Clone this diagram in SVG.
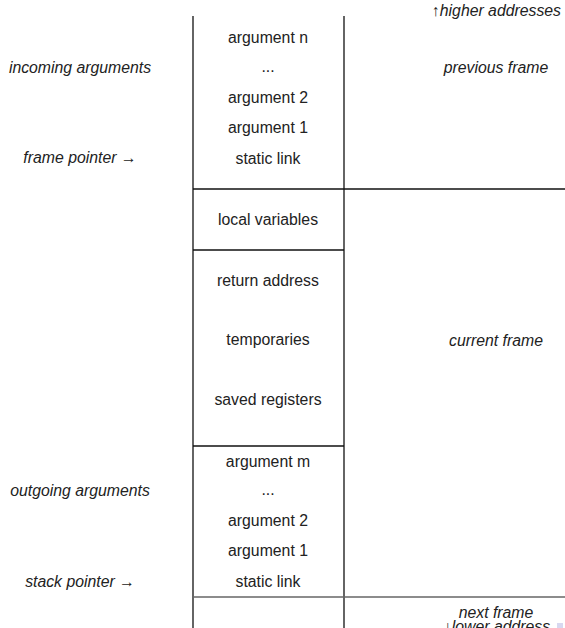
<svg xmlns="http://www.w3.org/2000/svg" width="565" height="628" viewBox="0 0 565 628">
<style>
.t{font-family:"Liberation Sans",Arial,sans-serif;font-size:15.8px;fill:#222;text-anchor:middle}
.i{font-style:italic}
.ln{stroke:#111;stroke-width:1.3;fill:none}
</style>
<rect width="565" height="628" fill="#fff"/>
<g id="connectors">
<line class="ln" x1="193" y1="16" x2="193" y2="628"/>
<line class="ln" x1="344" y1="16" x2="344" y2="628"/>
<line class="ln" x1="193" y1="189" x2="565" y2="189"/>
<line class="ln" x1="193" y1="250" x2="344" y2="250"/>
<line class="ln" x1="193" y1="446" x2="344" y2="446"/>
<line x1="193" y1="597" x2="565" y2="597" stroke="#666" stroke-width="1.5"/>
</g>
<g id="previous-frame">
<text class="t" x="268" y="43">argument n</text>
<text class="t" x="268" y="72">...</text>
<text class="t" x="268" y="103">argument 2</text>
<text class="t" x="268" y="133">argument 1</text>
<text class="t" x="268" y="164">static link</text>
</g>
<g id="local-variables"><text class="t" x="268" y="225">local variables</text></g>
<g id="middle">
<text class="t" x="268" y="286">return address</text>
<text class="t" x="268" y="345">temporaries</text>
<text class="t" x="268" y="405">saved registers</text>
</g>
<g id="outgoing">
<text class="t" x="268" y="467">argument m</text>
<text class="t" x="268" y="495">...</text>
<text class="t" x="268" y="526">argument 2</text>
<text class="t" x="268" y="556">argument 1</text>
<text class="t" x="268" y="587">static link</text>
</g>
<g id="labels">
<text class="t i" x="80" y="73">incoming arguments</text>
<text class="t i" x="80" y="163">frame pointer →</text>
<text class="t i" x="80" y="496">outgoing arguments</text>
<text class="t i" x="80" y="587">stack pointer →</text>
<text class="t i" x="496" y="73">previous frame</text>
<text class="t i" x="496" y="346">current frame</text>
<text class="t i" x="496" y="618">next frame</text>
<text class="t i" x="561" y="16" style="text-anchor:end">↑higher addresses</text>
<text class="t i" x="497" y="632">↓lower address</text>
</g>
<rect x="557" y="623" width="6" height="5" fill="#d8d8f0"/>
</svg>
